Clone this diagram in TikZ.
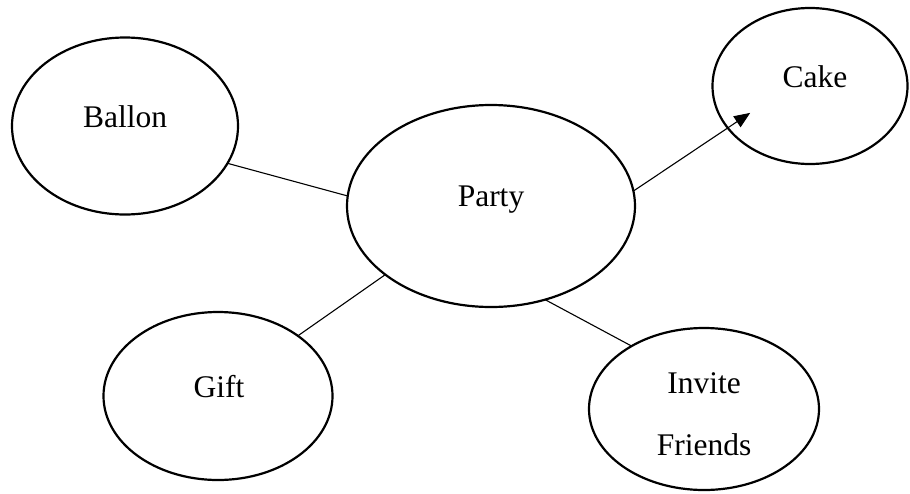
\documentclass[tikz,border=0pt]{standalone}
\usepackage{fontspec}
\setmainfont{Liberation Serif}
\usetikzlibrary{shapes.geometric,arrows.meta}

\begin{document}
\begin{tikzpicture}[x=1pt,y=-1pt,
    bubble/.style={draw,ellipse,line width=2.2pt,inner sep=0pt,outer sep=0pt},
    word/.style={anchor=base,inner sep=0pt,font=\fontsize{31.5}{38}\selectfont},
    link/.style={line width=1.1pt}]
    \useasboundingbox (0,0) rectangle (910,493);

    % Bubbles
    \node[bubble,minimum width=226pt,minimum height=177pt] (ballon) at (125,126) {};
    \node[bubble,minimum width=288pt,minimum height=202pt] (party) at (491,206) {};
    \node[bubble,minimum width=195pt,minimum height=156pt] (cake) at (810,86) {};
    \node[bubble,minimum width=229pt,minimum height=168pt] (gift) at (218,396) {};
    \node[bubble,minimum width=230pt,minimum height=162pt] (invite) at (704,409) {};

    % Labels
    \node[word] (ballontext) at (125,127) {Ballon};
    \node[word] (partytext) at (491,206) {Party};
    \node[word] (caketext) at (815,87) {Cake};
    \node[word] (gifttext) at (219,397) {Gift};
    \node[word] (invitetext) at (704,393) {Invite};
    \node[word] (friendstext) at (704,455) {Friends};

    % Links
    \draw[link] (ballon.-20) -- (party.176);
    \draw[link] (party.213) -- (gift.37);
    \draw[link] (party.-60) -- (invite.139);
    \draw[link,-{Triangle[length=16pt,width=13pt]},shorten >=-27pt] (party.6) -- (cake.207);
\end{tikzpicture}
\end{document}
